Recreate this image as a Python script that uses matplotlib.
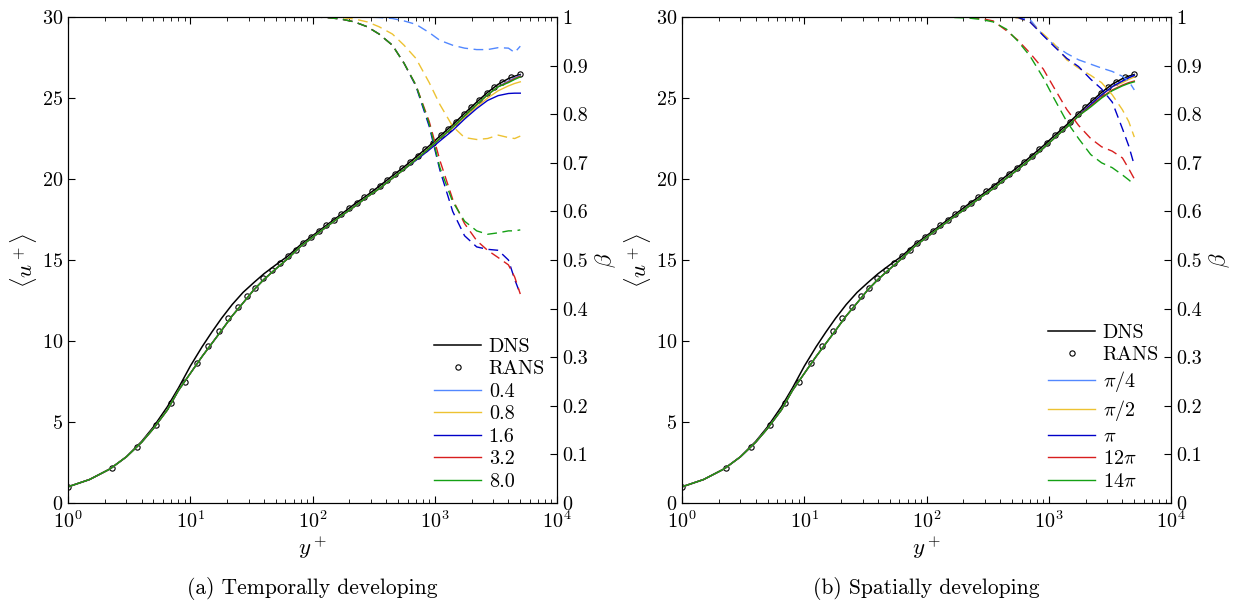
import matplotlib
matplotlib.use("Agg")
import matplotlib.pyplot as plt
from matplotlib.ticker import FixedLocator, FuncFormatter

plt.rcParams["font.family"] = "serif"
plt.rcParams["font.serif"] = ["cmr10", "DejaVu Serif"]
plt.rcParams["mathtext.fontset"] = "cm"
plt.rcParams["axes.formatter.use_mathtext"] = True
plt.rcParams["axes.unicode_minus"] = False

# ---- data ------------------------------------------------------------
# y+ grid of the LES lines
yl = [1, 1.5, 2.2, 3, 4, 5, 6.5, 8, 10, 12.5, 15, 18, 22, 27, 33, 40, 50, 63,
      80, 100, 130, 170, 220, 280, 350, 450, 560, 700, 900, 1100, 1400, 1750,
      2200, 2700, 3300, 4000, 4500, 5000]

u_dns = [1.0, 1.45, 2.1, 2.85, 3.8, 4.7, 5.95, 7.1, 8.45, 9.65, 10.55, 11.4,
         12.25, 13.0, 13.6, 14.15, 14.7, 15.25, 15.95, 16.5, 17.15, 17.8,
         18.45, 19.0, 19.55, 20.2, 20.75, 21.35, 22.05, 22.65, 23.35, 24.05,
         24.75, 25.35, 25.85, 26.2, 26.35, 26.45]

u_base = [1.0, 1.45, 2.1, 2.85, 3.75, 4.6, 5.75, 6.95, 8.0, 9.05, 9.85,
          10.65, 11.55, 12.35, 13.15, 13.8, 14.45, 15.1, 15.85, 16.4, 17.05,
          17.7, 18.3, 18.9, 19.4, 20.05, 20.6, 21.2, 21.9, 22.5, 23.2, 23.9,
          24.6, 25.2, 25.7, 26.05, 26.25, 26.4]

# RANS symbols
yr = [1.0, 2.3, 3.65, 5.25, 7.0, 9.0, 11.3, 13.9, 17.2, 20.3, 24.6, 29, 34,
      39.3, 46.6, 54, 63, 73, 84, 97, 112, 129, 149, 172, 199, 230, 265, 306,
      353, 408, 471, 544, 628, 725, 837, 967, 1117, 1290, 1490, 1720, 1986,
      2294, 2650, 3060, 3550, 4200, 4950]
ur = [0.99, 2.18, 3.46, 4.8, 6.2, 7.5, 8.65, 9.7, 10.6, 11.4, 12.1, 12.8,
      13.3, 13.9, 14.4, 14.8, 15.25, 15.6, 16.05, 16.45, 16.8, 17.15, 17.5,
      17.85, 18.2, 18.55, 18.9, 19.25, 19.6, 19.95, 20.3, 20.7, 21.05, 21.45,
      21.85, 22.25, 22.7, 23.1, 23.55, 24.0, 24.45, 24.9, 25.3, 25.7, 26.0,
      26.3, 26.5]

# (a) temporally developing: mean velocity
u_t04 = u_base
u_t08 = u_base[:30] + [23.15, 23.8, 24.45, 25.0, 25.45, 25.75, 25.9, 26.0]
u_t16 = u_base[:27] + [21.15, 21.8, 22.35, 23.0, 23.7, 24.35, 24.85, 25.15,
                       25.28, 25.3, 25.3]
u_t32 = u_base[:35] + [26.0, 26.2, 26.35]
u_t80 = u_base[:35] + [25.95, 26.15, 26.3]

# (a) temporally developing: beta
b_t04 = [1.0] * 23 + [1.0, 0.999, 0.997, 0.992, 0.985, 0.968, 0.952, 0.942,
                      0.936, 0.933, 0.933, 0.937, 0.936, 0.927, 0.94]
b_t08 = [1.0] * 21 + [0.999, 0.996, 0.99, 0.98, 0.965, 0.942, 0.915, 0.865,
                      0.82, 0.775, 0.752, 0.748, 0.75, 0.757, 0.752, 0.75,
                      0.755]
b_t16 = [1.0] * 20 + [0.999, 0.996, 0.99, 0.98, 0.965, 0.942, 0.905, 0.858,
                      0.775, 0.685, 0.6, 0.55, 0.527, 0.522, 0.52, 0.5, 0.46,
                      0.43]
b_t32 = [1.0] * 20 + [0.999, 0.996, 0.99, 0.98, 0.965, 0.942, 0.905, 0.86,
                      0.785, 0.705, 0.625, 0.575, 0.54, 0.52, 0.505, 0.49,
                      0.465, 0.43]
b_t80 = [1.0] * 20 + [0.999, 0.996, 0.99, 0.98, 0.965, 0.942, 0.905, 0.86,
                      0.78, 0.69, 0.62, 0.58, 0.56, 0.553, 0.556, 0.56, 0.56,
                      0.562]

# (b) spatially developing: mean velocity
u_s1 = u_base
u_s2 = u_base[:35] + [25.95, 26.15, 26.3]
u_s3 = u_base
u_s4 = u_base[:32] + [24.5, 25.05, 25.5, 25.8, 25.95, 26.05]
u_s5 = u_base[:32] + [24.45, 25.0, 25.45, 25.75, 25.9, 26.0]

# (b) spatially developing: beta (lines start further from the wall)
yb = [40, 50, 63, 80, 100, 130, 170, 220, 280, 350, 450, 560, 700, 900, 1100,
      1400, 1750, 2200, 2700, 3300, 4000, 4500, 5000]
b_s1 = [1.0] * 12 + [0.995, 0.962, 0.943, 0.925, 0.912, 0.903, 0.895, 0.888,
                     0.878, 0.868, 0.85]
b_s2 = [1.0] * 11 + [0.998, 0.99, 0.965, 0.945, 0.912, 0.895, 0.88, 0.865,
                     0.84, 0.809, 0.785, 0.753]
b_s3 = [1.0] * 11 + [0.999, 0.99, 0.962, 0.94, 0.915, 0.898, 0.872, 0.852,
                     0.825, 0.77, 0.735, 0.695]
b_s4 = [1.0] * 7 + [0.999, 0.997, 0.992, 0.972, 0.952, 0.926, 0.893, 0.855,
                    0.81, 0.777, 0.75, 0.733, 0.724, 0.71, 0.688, 0.667]
b_s5 = [1.0] * 6 + [0.999, 0.998, 0.995, 0.99, 0.975, 0.95, 0.92, 0.875,
                    0.833, 0.785, 0.75, 0.717, 0.7, 0.69, 0.675, 0.665, 0.655]

colors = ["#5288ff", "#edc232", "#0000c8", "#d81e1e", "#14a014"]
labels_t = ["0.4", "0.8", "1.6", "3.2", "8.0"]
labels_s = [r"$\pi/4$", r"$\pi/2$", r"$\pi$", r"$12\pi$", r"$14\pi$"]

FS = 14.5

fig = plt.figure(figsize=(12.46, 6.04), dpi=100)
ax_a = fig.add_axes([0.0546, 0.1672, 0.3925, 0.8046])
ax_b = fig.add_axes([0.5474, 0.1672, 0.3925, 0.8046])


def panel(ax, u_list, b_list, ybeta, labels, caption):
    ax.plot(yl, u_dns, color="black", lw=1.1, label="DNS")
    ax.plot(yr, ur, ls="none", marker="o", ms=3.8, mfc="none", mec="black",
            mew=0.8, label="RANS")
    for u, c, lab in zip(u_list, colors, labels):
        ax.plot(yl, u, color=c, lw=1.0, label=lab)
    ax.set_xscale("log")
    ax.set_xlim(1, 1e4)
    ax.set_ylim(0, 30)
    ax.set_yticks([0, 5, 10, 15, 20, 25, 30])
    ax.tick_params(which="both", direction="in", top=True, right=False,
                   labelsize=FS)
    ax.tick_params(which="major", length=5)
    ax.tick_params(which="minor", length=3)
    ax.tick_params(axis="x", pad=5)
    ax.set_xlabel(r"$y^+$", fontsize=FS + 2, labelpad=2)
    ax.set_ylabel(r"$\langle u^+ \rangle$", fontsize=FS + 2, labelpad=2)
    ax.legend(loc="lower right", frameon=False, fontsize=FS,
              handlelength=2.3, labelspacing=0.22, handletextpad=0.4,
              borderaxespad=0.2)

    ax2 = ax.twinx()
    for b, c in zip(b_list, colors):
        ax2.plot(ybeta, b, color=c, lw=1.0, dashes=(7, 4))
    ax2.set_ylim(0, 1)
    ax2.yaxis.set_major_locator(FixedLocator([i / 10 for i in range(11)]))
    ax2.yaxis.set_major_formatter(FuncFormatter(lambda v, p: f"{v:g}"))
    ax2.tick_params(which="both", direction="in", labelsize=FS, length=5)
    ax2.set_ylabel(r"$\beta$", fontsize=FS + 2, labelpad=4)

    pos = ax.get_position()
    fig.text((pos.x0 + pos.x1) / 2, 0.026, caption, ha="center",
             va="center", fontsize=15.5)


panel(ax_a, [u_t04, u_t08, u_t16, u_t32, u_t80],
      [b_t04, b_t08, b_t16, b_t32, b_t80], yl, labels_t,
      "(a) Temporally developing")
panel(ax_b, [u_s1, u_s2, u_s3, u_s4, u_s5],
      [b_s1, b_s2, b_s3, b_s4, b_s5], yb, labels_s,
      "(b) Spatially developing")

fig.savefig("out.png", dpi=100)
